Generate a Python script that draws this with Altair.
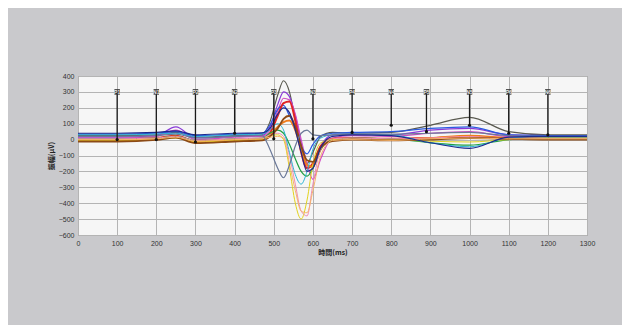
import altair as alt
import pandas as pd

# time axis (ms) sample points shared by all traces
xs = [0, 100, 200, 250, 300, 400, 470, 490, 510, 525, 540, 555, 570, 585, 600, 620, 650, 700, 800, 900, 1000, 1100, 1200, 1300]

series_names = ["ch1", "ch2", "ch3", "ch4", "ch5", "ch6", "ch7", "ch8", "ch9", "ch10", "ch11", "ch12", "ch13", "ch14"]
series_colors = ["#5a5a50", "#8a3ad8", "#d24cc4", "#2a5ae0", "#e02424", "#f07c1c", "#22a044",
                 "#e2d21c", "#f08cb4", "#2cb4d4", "#8c4a16", "#f5b46c", "#6a7898", "#1e2a8c"]
series_widths = [1.2, 1.2, 1.2, 1.2, 2.0, 2.0, 1.2, 1.0, 1.0, 1.0, 1.8, 1.0, 1.2, 1.2]

v_ch1 = [25, 25, 30, 45, 15, 25, 30, 110, 280, 370, 300, 120, -60, -150, -80, 20, 45, 40, 45, 90, 140, 50, 30, 30]
v_ch2 = [15, 15, 25, 80, 10, 20, 25, 80, 220, 300, 270, 150, -20, -180, -160, -40, 30, 35, 30, 60, 70, 30, 25, 25]
v_ch3 = [10, 10, 20, 60, 0, 15, 20, 60, 180, 260, 250, 160, 0, -150, -250, -120, 10, 25, 20, 40, 50, 20, 20, 20]
v_ch4 = [35, 35, 40, 50, 25, 35, 40, 90, 190, 215, 150, 80, -40, -90, -30, 25, 40, 45, 50, 70, 80, 30, 25, 25]
v_ch5 = [0, 0, 10, 25, -10, 0, 5, 40, 150, 230, 240, 120, -80, -180, -150, -40, 5, 10, 5, 10, 15, 10, 5, 5]
v_ch6 = [-5, -5, 5, 20, -15, -5, 0, 30, 80, 110, 120, 60, -60, -160, -170, -60, 0, 5, 0, 10, 25, 10, 5, 5]
v_ch7 = [5, 5, 10, 20, -5, 5, 10, 40, 60, 40, -30, -120, -200, -230, -180, -60, 0, 10, 5, -20, -35, 0, 10, 10]
v_ch8 = [-5, -5, 0, 10, -15, -5, 0, 25, 30, 0, -180, -400, -500, -380, -150, -20, 0, 5, 0, -10, -15, 0, 5, 5]
v_ch9 = [5, 5, 10, 20, -5, 5, 10, 30, 40, 20, -100, -280, -450, -480, -280, -60, 5, 10, 5, 10, 20, 5, 5, 5]
v_ch10 = [30, 30, 35, 40, 20, 30, 35, 60, 100, 60, -80, -220, -280, -200, -60, 10, 30, 35, 30, -20, -45, 10, 20, 20]
v_ch11 = [-12, -12, -2, 12, -22, -12, -5, 20, 70, 130, 150, 80, -40, -130, -140, -50, -10, 0, -5, 0, 10, 5, 0, 0]
v_ch12 = [0, 0, 5, 15, -10, 0, 5, 15, 20, 10, -150, -320, -450, -460, -320, -100, -5, 0, -5, 5, 10, 5, 5, 5]
v_ch13 = [20, 20, 25, 35, 10, 20, 25, -60, -180, -240, -160, -40, 40, 60, 30, 25, 30, 35, 35, 40, 45, 25, 20, 20]
v_ch14 = [40, 40, 45, 55, 30, 40, 42, 70, 160, 200, 170, 60, -80, -200, -180, -50, 20, 30, 25, -20, -55, 15, 20, 20]

all_values = [v_ch1, v_ch2, v_ch3, v_ch4, v_ch5, v_ch6, v_ch7, v_ch8, v_ch9, v_ch10, v_ch11, v_ch12, v_ch13, v_ch14]

# cursors
cursor_x = [100, 200, 300, 400, 500, 600, 700, 800, 890, 1000, 1100, 1200]
cursor_end = [0, 0, -15, 40, 5, 5, 45, 90, 50, 90, 40, 30]
cursor_labels = ["P1", "N1", "P2", "N2", "P3", "N3", "P4", "N4", "P5", "N5", "P6", "N6"]
cursor_top = 300

x_ticks = [0, 100, 200, 300, 400, 500, 600, 700, 800, 900, 1000, 1100, 1200, 1300]
y_ticks = [400, 300, 200, 100, 0, -100, -200, -300, -400, -500, -600]

rows = []
for name, vals, w in zip(series_names, all_values, series_widths):
    for x, v in zip(xs, vals):
        rows.append({"t": x, "v": v, "s": name, "w": w})
df = pd.DataFrame(rows)

cur = pd.DataFrame({"t": cursor_x, "v": cursor_end, "top": [cursor_top] * len(cursor_x), "lab": cursor_labels})

xscale = alt.Scale(domain=[0, 1300], nice=False, zero=False)
yscale = alt.Scale(domain=[-600, 400], nice=False, zero=False)

xaxis = alt.Axis(values=x_ticks, format="d", title="時間(ms)", labelFontSize=7, labelColor="#333333",
                 titleFontSize=7, titleColor="#222222", titleFont="Noto Sans CJK JP",
                 gridColor="#b4b4b4", gridWidth=1, domain=False, ticks=False, labelPadding=4,
                 titlePadding=2, labelOverlap=False, labelFlush=False)
yaxis = alt.Axis(values=y_ticks, format="d", title="振幅(µV)", labelFontSize=7, labelColor="#333333",
                 titleFontSize=7, titleColor="#222222", titleFont="Noto Sans CJK JP",
                 gridColor="#b4b4b4", gridWidth=1, domain=False, ticks=False, labelPadding=4,
                 titlePadding=4, labelOverlap=False, labelFlush=False)

X = alt.X("t:Q", scale=xscale, axis=xaxis)
Y = alt.Y("v:Q", scale=yscale, axis=yaxis)

lines = alt.Chart(df).mark_line(interpolate="monotone").encode(
    x=X,
    y=Y,
    color=alt.Color("s:N", scale=alt.Scale(domain=series_names, range=series_colors), legend=None),
    strokeWidth=alt.StrokeWidth("w:Q", scale=None),
    detail="s:N",
)

rules = alt.Chart(cur).mark_rule(color="#1a1a1a", strokeWidth=1.3).encode(
    x=X, y=alt.Y("top:Q", scale=yscale, axis=yaxis), y2="v:Q"
)
dots = alt.Chart(cur).mark_point(filled=True, color="#111111", size=10, opacity=1).encode(
    x=X, y=Y
)
tags = alt.Chart(cur).mark_square(color="#333333", size=30, opacity=1).encode(
    x=X, y=alt.Y("top:Q", scale=yscale, axis=yaxis)
)
labels = alt.Chart(cur).mark_text(fontSize=5, color="#eeeeee", fontWeight="bold").encode(
    x=X, y=alt.Y("top:Q", scale=yscale, axis=yaxis), text="lab:N"
)

chart = alt.layer(lines, rules, dots, tags, labels).properties(
    width=509, height=159,
    padding={"left": 70, "top": 68, "right": 35, "bottom": 90},
    autosize=alt.AutoSizeParams(type="none"),
    background="#c9c9cc",
).configure_view(fill="#f6f6f6", stroke="#8a8a8a", strokeWidth=1)

chart.save("out.html", embed_options={"renderer": "svg", "actions": False})
